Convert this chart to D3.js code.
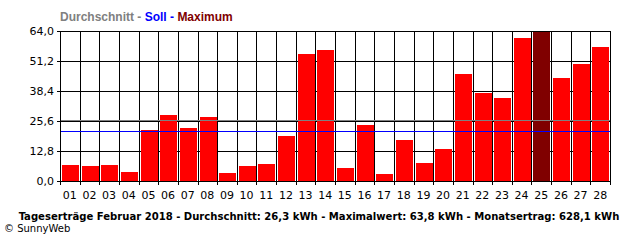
<!DOCTYPE html>
<html>
<head>
<meta charset="utf-8">
<script src="https://cdn.jsdelivr.net/npm/d3@7"></script>
<style>
  body { margin: 0; background: #fff; }
  text { font-family: "DejaVu Sans", sans-serif; }
</style>
</head>
<body>
<svg id="chart" width="640" height="240"></svg>
<script>
// Tageserträge Februar 2018 (kWh)
const days = ["01","02","03","04","05","06","07","08","09","10","11","12","13","14",
              "15","16","17","18","19","20","21","22","23","24","25","26","27","28"];
const yields = [6.8, 6.4, 6.8, 3.8, 21.8, 28.2, 22.6, 27.3, 3.4, 6.4, 7.3, 19.2, 54.2, 55.9,
                5.5, 23.9, 3.0, 17.5, 7.7, 13.7, 45.7, 37.5, 35.4, 61.0, 63.8, 43.9, 49.9, 57.2];
const yTicks = [0, 12.8, 25.6, 38.4, 51.2, 64.0];
const average = 26.3;
const target = 21.2;
const maxValue = 63.8;
const legend = [
  { text: "Durchschnitt", color: "#808080" },
  { text: "Soll", color: "#0000ff" },
  { text: "Maximum", color: "#800000" }
];
const title = "Tageserträge Februar 2018 - Durchschnitt: 26,3 kWh - Maximalwert: 63,8 kWh - Monatsertrag: 628,1 kWh";

const margin = { left: 60, right: 30, top: 31, bottom: 59 };
const width = 640, height = 240;

const svg = d3.select("#chart");

const x = d3.scaleBand()
  .domain(days)
  .range([margin.left, width - margin.right])
  .paddingInner(0)
  .paddingOuter(0);

const y = d3.scaleLinear()
  .domain([0, 64])
  .range([height - margin.bottom, margin.top]);

const fmt = v => d3.format(".1f")(v).replace(".", ",");
const crisp = v => Math.round(v) + 0.5;

// horizontal grid + y axis
const yAxis = d3.axisLeft(y)
  .tickValues(yTicks)
  .tickSize(-(width - margin.left - margin.right))
  .tickSizeOuter(0)
  .tickPadding(6)
  .tickFormat(fmt);

const gy = svg.append("g")
  .attr("transform", "translate(" + margin.left + ",0)")
  .call(yAxis);
gy.select(".domain").remove();
gy.selectAll(".tick line")
  .attr("x1", -3)
  .attr("stroke", "#000")
  .attr("shape-rendering", "crispEdges");
gy.selectAll(".tick text")
  .style("font-size", "11px")
  .attr("fill", "#000");

// vertical grid at band edges
const edges = days.map(d => x(d)).concat([width - margin.right]);
svg.append("g")
  .selectAll("line")
  .data(edges)
  .enter()
  .append("line")
  .attr("x1", d => crisp(d))
  .attr("x2", d => crisp(d))
  .attr("y1", y(64))
  .attr("y2", y(0) + 4)
  .attr("stroke", "#000");

// bars
svg.append("g")
  .selectAll("rect")
  .data(yields)
  .enter()
  .append("rect")
  .attr("x", (d, i) => Math.round(x(days[i])) + 2)
  .attr("width", x.bandwidth() - 3)
  .attr("y", d => y(d))
  .attr("height", d => y(0) - y(d))
  .attr("fill", d => d === maxValue ? "#800000" : "#ff0000")
  .attr("shape-rendering", "crispEdges");

// average and target lines
const avgY = Math.ceil(y(average)) + 0.5;
svg.append("line")
  .attr("x1", margin.left).attr("x2", width - margin.right)
  .attr("y1", avgY).attr("y2", avgY)
  .attr("stroke", "#808080").attr("stroke-width", 1);

svg.append("line")
  .attr("x1", margin.left).attr("x2", width - margin.right)
  .attr("y1", crisp(y(target))).attr("y2", crisp(y(target)))
  .attr("stroke", "#0000ff").attr("stroke-width", 1);

// x axis labels
const xAxis = d3.axisBottom(x).tickSize(0).tickPadding(10);
const gx = svg.append("g")
  .attr("transform", "translate(0," + y(0) + ")")
  .call(xAxis);
gx.select(".domain").attr("stroke", "#000");
gx.selectAll(".tick text")
  .style("font-size", "11px")
  .attr("fill", "#000");

// frame top / right
svg.append("rect")
  .attr("x", margin.left + 0.5)
  .attr("y", y(64) + 0.5)
  .attr("width", width - margin.left - margin.right)
  .attr("height", y(0) - y(64))
  .attr("fill", "none")
  .attr("stroke", "#000");

// legend
const lg = svg.append("text")
  .attr("x", margin.left)
  .attr("y", 21)
  .style("font-family", "'Liberation Sans', Arial, sans-serif")
  .style("font-size", "12px")
  .style("font-weight", "bold");
legend.forEach((l, i) => {
  lg.append("tspan").attr("fill", l.color).text(l.text);
  if (i < legend.length - 1) lg.append("tspan").attr("fill", l.color).text(" - ");
});

// title
svg.append("text")
  .attr("x", 319)
  .attr("y", 220)
  .attr("text-anchor", "middle")
  .style("font-size", "11.2px")
  .style("font-weight", "bold")
  .style("font-stretch", "condensed")
  .attr("fill", "#000")
  .text(title);

svg.append("text")
  .attr("x", 4)
  .attr("y", 232)
  .style("font-size", "10px")
  .attr("fill", "#000")
  .text("© SunnyWeb");
</script>
</body>
</html>
